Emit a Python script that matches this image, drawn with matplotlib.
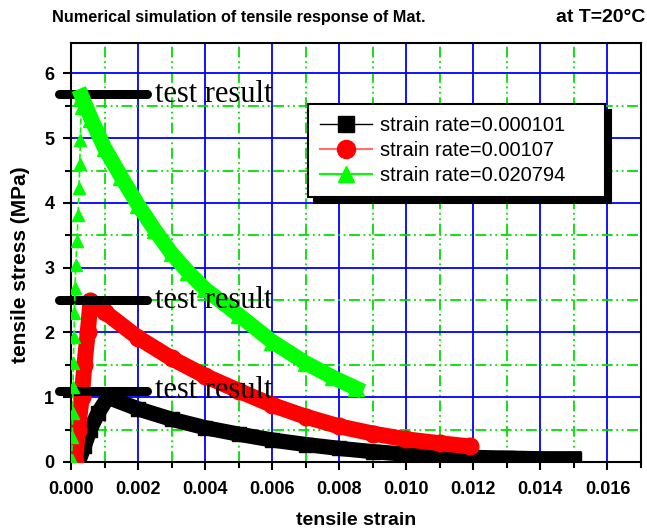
import numpy as np
import matplotlib
matplotlib.use("Agg")
import matplotlib.pyplot as plt
from matplotlib.lines import Line2D
from matplotlib.ticker import MultipleLocator, FormatStrFormatter

plt.rcParams['font.family'] = ['Liberation Sans', 'DejaVu Sans']

# --- data ---
# strain rate = 0.000101 (black squares)
black_up_x = [0.00022, 0.0004, 0.00057, 0.0008, 0.0011]
black_up_y = [0.0, 0.25, 0.5, 0.75, 1.0]
black_dn_x = [0.0011, 0.002, 0.003, 0.004, 0.005, 0.006, 0.007, 0.008,
              0.009, 0.010, 0.011, 0.012, 0.013, 0.014, 0.015]
black_dn_y = [1.0, 0.82, 0.66, 0.53, 0.43, 0.34, 0.27, 0.21,
              0.16, 0.12, 0.09, 0.07, 0.06, 0.05, 0.05]

# strain rate = 0.00107 (red circles)
red_up_x = [0.00012, 0.00021, 0.00032, 0.0004, 0.0005, 0.00058]
red_up_y = [0.0, 0.5, 1.0, 1.5, 2.0, 2.48]
red_dn_x = [0.00058, 0.001, 0.002, 0.003, 0.004, 0.005, 0.006, 0.007,
            0.008, 0.009, 0.010, 0.011, 0.0119]
red_dn_y = [2.48, 2.32, 1.92, 1.6, 1.33, 1.1, 0.88, 0.7,
            0.55, 0.44, 0.35, 0.29, 0.24]

# strain rate = 0.020794 (green triangles)
green_up_x = [0.00002, 0.00004, 0.00005, 0.00006, 0.00007, 0.00009, 0.0001, 0.00012,
              0.00014, 0.00018, 0.00021, 0.00024, 0.00026, 0.00028, 0.0003, 0.00032]
green_up_y = [0.03, 0.39, 0.75, 1.16, 1.53, 1.93, 2.30, 2.68,
              3.04, 3.42, 3.81, 4.23, 4.60, 4.97, 5.46, 5.65]
green_dn_x = [0.00032, 0.0006, 0.001, 0.0015, 0.002, 0.0025, 0.003, 0.0035,
              0.004, 0.005, 0.006, 0.007, 0.0078, 0.0085]
green_dn_y = [5.65, 5.3, 4.85, 4.4, 3.97, 3.58, 3.22, 2.93,
              2.67, 2.27, 1.86, 1.53, 1.31, 1.14]

test_levels = [5.68, 2.5, 1.1]
labels = ["strain rate=0.000101", "strain rate=0.00107", "strain rate=0.020794"]

fig = plt.figure(figsize=(6.47, 5.31), dpi=100)
ax = fig.add_axes([71/647, 69/531, 570/647, 419/531])

# bands (dense markers in the original)
ax.plot(black_up_x + black_dn_x[1:], black_up_y + black_dn_y[1:], color='k', lw=11,
        marker='s', ms=10, solid_joinstyle='miter', zorder=3)
ax.plot(red_up_x + red_dn_x[1:], red_up_y + red_dn_y[1:], color='#ff0000', lw=11.5,
        marker='o', ms=12, solid_capstyle='round', zorder=4)
ax.plot(green_up_x, green_up_y, color='#00ff00', lw=1.2, ls='--', marker='^', ms=8, zorder=6)
ax.plot(green_dn_x, green_dn_y, color='#00ff00', lw=11, marker='^', ms=11, zorder=6)

# test result markers
for lv in test_levels:
    ax.plot([-0.00036, 0.00228], [lv, lv], color='k', lw=6.5, solid_capstyle='round',
            clip_on=False, zorder=5)
    ax.text(0.00251, lv, "test result", family=['Liberation Serif'], fontsize=22,
            va='center', ha='left', zorder=7)

ax.set_xlim(0, 0.017)
ax.set_ylim(0, 6.47)
ax.xaxis.set_major_locator(MultipleLocator(0.002))
ax.xaxis.set_minor_locator(MultipleLocator(0.001))
ax.yaxis.set_major_locator(MultipleLocator(1))
ax.yaxis.set_minor_locator(MultipleLocator(0.5))
ax.xaxis.set_major_formatter(FormatStrFormatter('%.3f'))

ax.grid(True, which='major', color='#0000ff', lw=1.3, ls='-', zorder=0)
ax.grid(True, which='minor', color='#00e000', lw=1.3, ls=(0, (6, 2, 1, 2, 1, 2)), zorder=0)
ax.set_axisbelow(True)

for s in ax.spines.values():
    s.set_linewidth(1.5)
ax.tick_params(which='major', direction='out', length=6, width=1.5, labelsize=13)
ax.tick_params(which='minor', direction='out', length=4, width=1.5)
ax.tick_params(axis='x', which='major', pad=8)
ax.tick_params(axis='y', which='major', pad=6)
for t in ax.get_xticklabels() + ax.get_yticklabels():
    t.set_fontweight('bold')

ax.set_xlabel("tensile strain", fontsize=14, fontweight='bold', labelpad=10)
ax.set_ylabel("tensile stress (MPa)", fontsize=15, fontweight='bold')
ax.yaxis.set_label_coords(-0.072, 0.47)

fig.text(52/647, 1 - 22/531, "Numerical simulation of tensile response of Mat.",
         fontsize=11.7, fontweight='bold', ha='left', va='baseline')
fig.text(645/647, 1 - 22/531, "at T=20°C",
         fontsize=14, fontweight='bold', ha='right', va='baseline')

handles = [
    Line2D([], [], color='k', lw=1, marker='s', ms=11),
    Line2D([], [], color='#ff7070', lw=1.5, marker='o', mfc='#ff0000', mec='#ff0000', ms=13),
    Line2D([], [], color='#00ff00', lw=1.5, marker='^', ms=11),
]
leg = ax.legend(handles, labels, loc='upper left',
                bbox_to_anchor=(237/570, 358/419, 297/570, 0), mode='expand',
                fontsize=14.5, frameon=True, fancybox=False, framealpha=1,
                edgecolor='k', handlelength=2.6, handletextpad=0.4, borderpad=0.6,
                labelspacing=0.3, borderaxespad=0,
                shadow={'ox': 4, 'oy': -4, 'color': 'k', 'alpha': 1})
leg.get_frame().set_linewidth(1.5)

fig.savefig("out.png", dpi=100)
